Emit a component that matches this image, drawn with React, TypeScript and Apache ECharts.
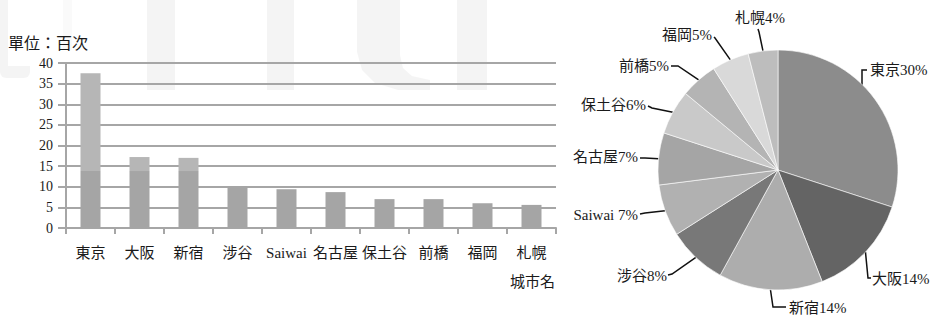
import React, { useEffect, useRef } from 'react';
import * as echarts from 'echarts';

const categories = ['東京', '大阪', '新宿', '涉谷', 'Saiwai', '名古屋', '保土谷', '前橋', '福岡', '札幌'];
const baseValues = [13.8, 13.8, 13.8, 10.2, 9.4, 8.7, 7, 7, 6, 5.6];
const upperValues = [23.7, 3.4, 3.2, 0, 0, 0, 0, 0, 0, 0];
const yTicks = [0, 5, 10, 15, 20, 25, 30, 35, 40];
const pieShares = [30, 14, 14, 8, 7, 7, 6, 5, 5, 4];
const pieColors = ['#8c8c8c', '#646464', '#adadad', '#787878', '#b1b1b1', '#a5a5a5', '#c9c9c9', '#b4b4b4', '#d9d9d9', '#bdbdbd'];

const FONT = "'Liberation Serif', 'Noto Sans CJK JP', serif";
const GRID = '#a6a6a6';

// label anchors for pie labels (layout only)
const pieLabelSpots: any[] = [
  { x: 870, y: 70, align: 'left', start: [862, 127], mid: [862, 70], end: [867, 70] },
  { x: 872, y: 279, align: 'left', mid: [868, 278], end: [871, 278] },
  { x: 789, y: 308, align: 'left', mid: [773, 307], end: [786, 307] },
  { x: 667, y: 276, align: 'right', mid: [672, 274], end: [668, 275] },
  { x: 638, y: 215, align: 'right', mid: [645, 213], end: [640, 214] },
  { x: 638, y: 157, align: 'right', mid: [645, 158], end: [640, 158] },
  { x: 646, y: 105, align: 'right', mid: [652, 108], end: [648, 106] },
  { x: 669, y: 66, align: 'right', mid: [678, 66], end: [671, 66] },
  { x: 712, y: 35, align: 'right', mid: [715, 38], end: [714, 37] },
  { x: 760, y: 18, align: 'center', mid: [759, 32], end: [758, 29] },
];

const WM = { fill: '#000000', opacity: 0.045 };
const watermark = [
  { type: 'rect', shape: { x: 0, y: 0, width: 8, height: 66 }, style: WM },
  { type: 'rect', shape: { x: 0, y: 66, width: 30, height: 12, r: [0, 0, 6, 6] }, style: WM },
  { type: 'rect', shape: { x: 63, y: 0, width: 9, height: 50 }, style: { fill: '#000', opacity: 0.02 } },
  { type: 'rect', shape: { x: 147, y: 0, width: 28, height: 90 }, style: WM },
  { type: 'rect', shape: { x: 267, y: 0, width: 27, height: 90 }, style: WM },
  {
    type: 'polygon',
    shape: {
      points: [[357, 0], [400, 0], [400, 55], [403, 68], [412, 76], [430, 80], [430, 90], [398, 90], [375, 83], [362, 70], [357, 52]],
    },
    style: WM,
  },
  { type: 'rect', shape: { x: 457, y: 0, width: 30, height: 90 }, style: WM },
];

export default function App() {
  const ref = useRef<HTMLDivElement>(null);
  useEffect(() => {
    const chart = echarts.init(ref.current!, undefined, { renderer: 'svg' });
    chart.setOption({
      animation: false,
      backgroundColor: '#ffffff',
      textStyle: { fontFamily: FONT },
      graphic: [
        { type: 'text', left: 8, top: 35, style: { text: '單位：百次', font: `16px ${FONT}`, fill: '#1a1a1a' } },
        { type: 'text', right: 379, top: 274, style: { text: '城市名', font: `15px ${FONT}`, fill: '#1a1a1a' } },
        { type: 'group', z: 100, silent: true, children: watermark },
      ],
      grid: { left: 66, right: 378, top: 63, bottom: 87, containLabel: false },
      xAxis: {
        type: 'category',
        data: categories,
        axisLine: { show: true, lineStyle: { color: GRID, width: 2 } },
        axisTick: { show: true, length: 6, lineStyle: { color: GRID, width: 2 } },
        axisLabel: { color: '#1a1a1a', fontSize: 15, margin: 17, fontFamily: FONT, interval: 0 },
      },
      yAxis: {
        type: 'value',
        min: 0,
        max: 40,
        interval: 5,
        axisLine: { show: true, lineStyle: { color: GRID, width: 2 } },
        axisTick: { show: true, length: 8, lineStyle: { color: GRID, width: 2 } },
        axisLabel: {
          color: '#1a1a1a', fontSize: 14, margin: 13, fontFamily: FONT,
          formatter: (v: number) => (yTicks.includes(v) ? String(v) : ''),
        },
        splitLine: { show: true, lineStyle: { color: GRID, width: 2 } },
      },
      series: [
        {
          type: 'bar', stack: 'total', data: baseValues, barWidth: 20,
          itemStyle: { color: '#a5a5a5' },
        },
        {
          type: 'bar', stack: 'total', data: upperValues, barWidth: 20,
          itemStyle: { color: '#b6b6b6' },
        },
        {
          type: 'pie',
          center: [778, 170],
          radius: 120,
          startAngle: 90,
          clockwise: true,
          data: categories.map((name, i) => ({ name, value: pieShares[i], itemStyle: { color: pieColors[i] } })),
          itemStyle: { borderColor: '#ffffff', borderWidth: 0.6 },
          label: {
            show: true,
            color: '#1a1a1a',
            fontSize: 15,
            fontFamily: FONT,
            overflow: 'none',
            formatter: (p: any) => `${p.name}${/[A-Za-z]$/.test(p.name) ? ' ' : ''}${p.value}%`,
          },
          labelLine: { show: true, length: 12, length2: 6, lineStyle: { color: '#111', width: 1.5 } },
          labelLayout: (params: any) => {
            const s = pieLabelSpots[params.dataIndex];
            const start = s.start || (params.labelLinePoints ? params.labelLinePoints[0] : s.mid);
            return {
              x: s.x,
              y: s.y,
              align: s.align,
              verticalAlign: 'middle',
              labelLinePoints: [start, s.mid, s.end],
            };
          },
          emphasis: { disabled: true },
        },
      ],
    });
    return () => chart.dispose();
  }, []);
  return <div ref={ref} style={{ position: 'fixed', left: 0, top: 0, width: 934, height: 315 }} />;
}
